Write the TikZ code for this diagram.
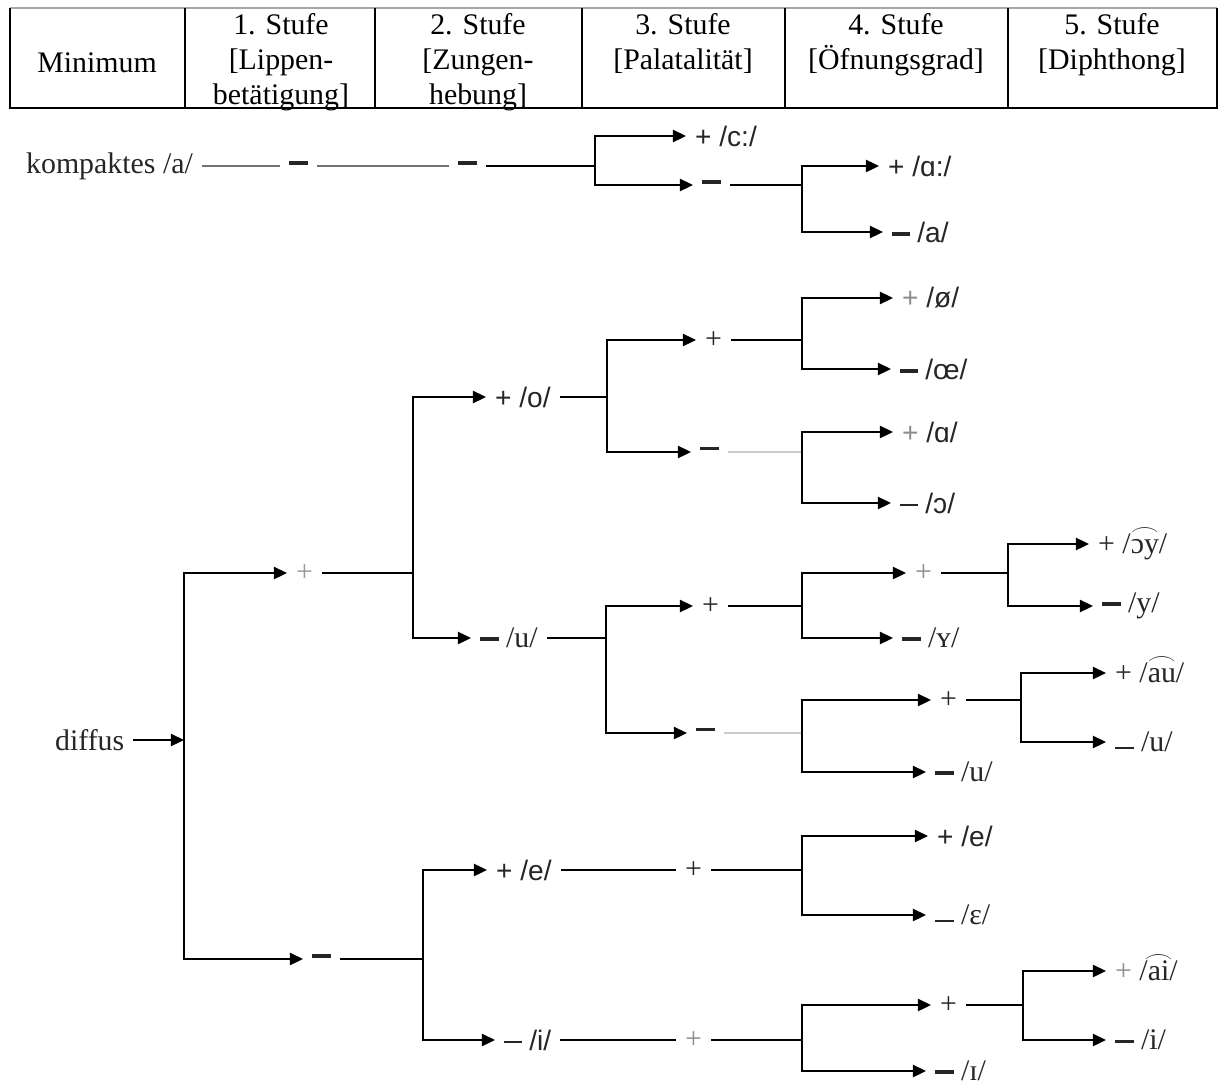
\documentclass[tikz,border=0pt]{standalone}
\usepackage{fontspec}
\setmainfont{Liberation Serif}
\newfontfamily\ipasans{Liberation Sans}
\usetikzlibrary{arrows.meta}
\newcommand{\bminus}{\rule[0.22em]{0.62em}{0.13em}}
\newcommand{\lminus}{\rule[0.24em]{0.62em}{0.075em}}
\newcommand{\uminus}{\rule[0.08em]{0.62em}{0.075em}}
\newcommand{\ipatie}[1]{{\ooalign{#1\cr\hidewidth\raisebox{0.6em}{\resizebox{0.95em}{0.25em}{$\frown$}}\hidewidth\cr}}}

\begin{document}
\begin{tikzpicture}[
    x=0.02cm, y=-0.02cm,
    >={Triangle[length=7.5pt, width=7pt]},
    every node/.style={font=\fontsize{17}{20}\selectfont},
    head/.style={align=center, anchor=north, inner sep=0pt},
    tag/.style={anchor=west, inner xsep=5pt, inner ysep=2pt, text=black!85},
    sanstag/.style={tag, font=\fontsize{16}{19}\selectfont\ipasans},
    arrow/.style={->, line width=1pt},
    line/.style={line width=1pt},
    faint/.style={line width=1pt, color=black!20},
    soft/.style={line width=1pt, color=black!55},
]
\useasboundingbox (0,0) rectangle (1219,1088);

% Table head
\draw[line width=0.8pt, black!35] (10,8) -- (1217,8);
\draw[line width=1.2pt] (10,8) -- (10,108) -- (1217,108) -- (1217,8);
\foreach \x in {185,375,582,785,1008}
    \draw[line width=1.2pt] (\x,8) -- (\x,108);

\node[head, anchor=base] (minimum) at (97,72) {Minimum};
\node[head] (stufe1) at (281,13) {1. Stufe\\{[}Lippen-\\betätigung{]}};
\node[head] (stufe2) at (478,13) {2. Stufe\\{[}Zungen-\\hebung{]}};
\node[head] (stufe3) at (683,13) {3. Stufe\\{[}Palatalität{]}};
\node[head] (stufe4) at (896,13) {4. Stufe\\{[}Öfnungsgrad{]}};
\node[head] (stufe5) at (1112,13) {5. Stufe\\{[}Diphthong{]}};

% kompaktes /a/
\node[tag] (kompakt) at (17,166) {kompaktes /a/};
\node[tag] (k1) at (280,166) {\bminus};
\node[tag] (k2) at (449,166) {\bminus};
\coordinate (A) at (595,166);
\node[sanstag] (Aplus) at (686,136) {+ /c:/};
\node[tag] (Aminus) at (693,185) {\bminus};
\coordinate (B) at (802,185);
\node[sanstag] (Bplus) at (879,166) {+ /ɑ:/};
\node[sanstag] (Bminus) at (883,232) {\bminus{} /a/};

\draw[soft] (kompakt) -- (k1);
\draw[soft] (k1) -- (k2);
\draw[line] (k2) -- (A);
\draw[arrow] (A) |- (Aplus);
\draw[arrow] (A) |- (Aminus);
\draw[line] (Aminus) -- (B);
\draw[arrow] (B) |- (Bplus);
\draw[arrow] (B) |- (Bminus);

% diffus
\node[tag] (diffus) at (46,740) {diffus};
\coordinate (D) at (184,740);
\node[tag, text=black!40] (Dplus) at (287,573) {+};
\node[tag] (Dminus) at (303,959) {\bminus};

\coordinate (E) at (413,573);
\node[sanstag] (Eplus) at (486,397) {+ /o/};
\node[tag] (Eminus) at (471,638) {\bminus{} /u/};

\coordinate (F) at (607,397);
\node[tag] (Fplus) at (696,340) {+};
\node[tag] (Fminus) at (691,452) {\lminus};
\coordinate (G) at (802,340);
\node[sanstag] (Gplus) at (893,298) {{\color{black!45}+} /ø/};
\node[sanstag] (Gminus) at (891,369) {\bminus{} /œ/};
\coordinate (H) at (802,452);
\node[sanstag] (Hplus) at (893,432) {{\color{black!45}+} /ɑ/};
\node[sanstag] (Hminus) at (891,503) {\lminus{} /ɔ/};

\coordinate (I) at (606,638);
\node[tag] (Iplus) at (693,606) {+};
\node[tag] (Iminus) at (687,733) {\lminus};
\coordinate (J) at (802,606);
\node[tag, text=black!45] (Jplus) at (906,573) {+};
\node[tag] (Jminus) at (893,638) {\bminus{} /ʏ/};
\coordinate (K) at (1008,573);
\node[tag] (Kplus) at (1089,544) {+ /\ipatie{ɔy}/};
\node[tag] (Kminus) at (1093,606) {\bminus{} /y/};
\coordinate (L) at (802,733);
\node[tag] (Lplus) at (931,700) {+};
\node[tag] (Lminus) at (926,772) {\bminus{} /u/};
\coordinate (M) at (1021,700);
\node[tag] (Mplus) at (1106,673) {+ /\ipatie{au}/};
\node[tag] (Mminus) at (1106,742) {\uminus{} /u/};

\coordinate (N) at (423,959);
\node[sanstag] (Nplus) at (487,870) {+ /e/};
\node[sanstag] (Nminus) at (495,1040) {\lminus{} /i/};
\node[tag] (Oin) at (676,870) {+};
\node[tag, text=black!45] (Pin) at (676,1040) {+};
\coordinate (O) at (802,870);
\node[sanstag] (Oplus) at (928,836) {+ /e/};
\node[tag] (Ominus) at (926,915) {\uminus{} /ɛ/};
\coordinate (P) at (802,1040);
\node[tag] (Pplus) at (931,1005) {+};
\node[tag, inner ysep=0pt] (Pminus) at (926,1071) {\bminus{} /ɪ/};
\coordinate (Q) at (1023,1005);
\node[tag] (Qplus) at (1106,971) {{\color{black!45}+} /\ipatie{ai}/};
\node[tag] (Qminus) at (1106,1040) {\lminus{} /i/};

\draw[arrow] (diffus) -- (D);
\draw[arrow] (D) |- (Dplus);
\draw[arrow] (D) |- (Dminus);
\draw[line] (Dplus) -- (E);
\draw[arrow] (E) |- (Eplus);
\draw[arrow] (E) |- (Eminus);
\draw[line] (Eplus) -- (F);
\draw[arrow] (F) |- (Fplus);
\draw[arrow] (F) |- (Fminus);
\draw[line] (Fplus) -- (G);
\draw[arrow] (G) |- (Gplus);
\draw[arrow] (G) |- (Gminus);
\draw[faint] (Fminus) -- (H);
\draw[arrow] (H) |- (Hplus);
\draw[arrow] (H) |- (Hminus);
\draw[line] (Eminus) -- (I);
\draw[arrow] (I) |- (Iplus);
\draw[arrow] (I) |- (Iminus);
\draw[line] (Iplus) -- (J);
\draw[arrow] (J) |- (Jplus);
\draw[arrow] (J) |- (Jminus);
\draw[line] (Jplus) -- (K);
\draw[arrow] (K) |- (Kplus);
\draw[arrow] (K) |- (Kminus);
\draw[faint] (Iminus) -- (L);
\draw[arrow] (L) |- (Lplus);
\draw[arrow] (L) |- (Lminus);
\draw[line] (Lplus) -- (M);
\draw[arrow] (M) |- (Mplus);
\draw[arrow] (M) |- (Mminus);
\draw[line] (Dminus) -- (N);
\draw[arrow] (N) |- (Nplus);
\draw[arrow] (N) |- (Nminus);
\draw[line] (Nplus) -- (Oin);
\draw[line] (Oin) -- (O);
\draw[arrow] (O) |- (Oplus);
\draw[arrow] (O) |- (Ominus);
\draw[line] (Nminus) -- (Pin);
\draw[line] (Pin) -- (P);
\draw[arrow] (P) |- (Pplus);
\draw[arrow] (P) |- (Pminus);
\draw[line] (Pplus) -- (Q);
\draw[arrow] (Q) |- (Qplus);
\draw[arrow] (Q) |- (Qminus);
\end{tikzpicture}
\end{document}
